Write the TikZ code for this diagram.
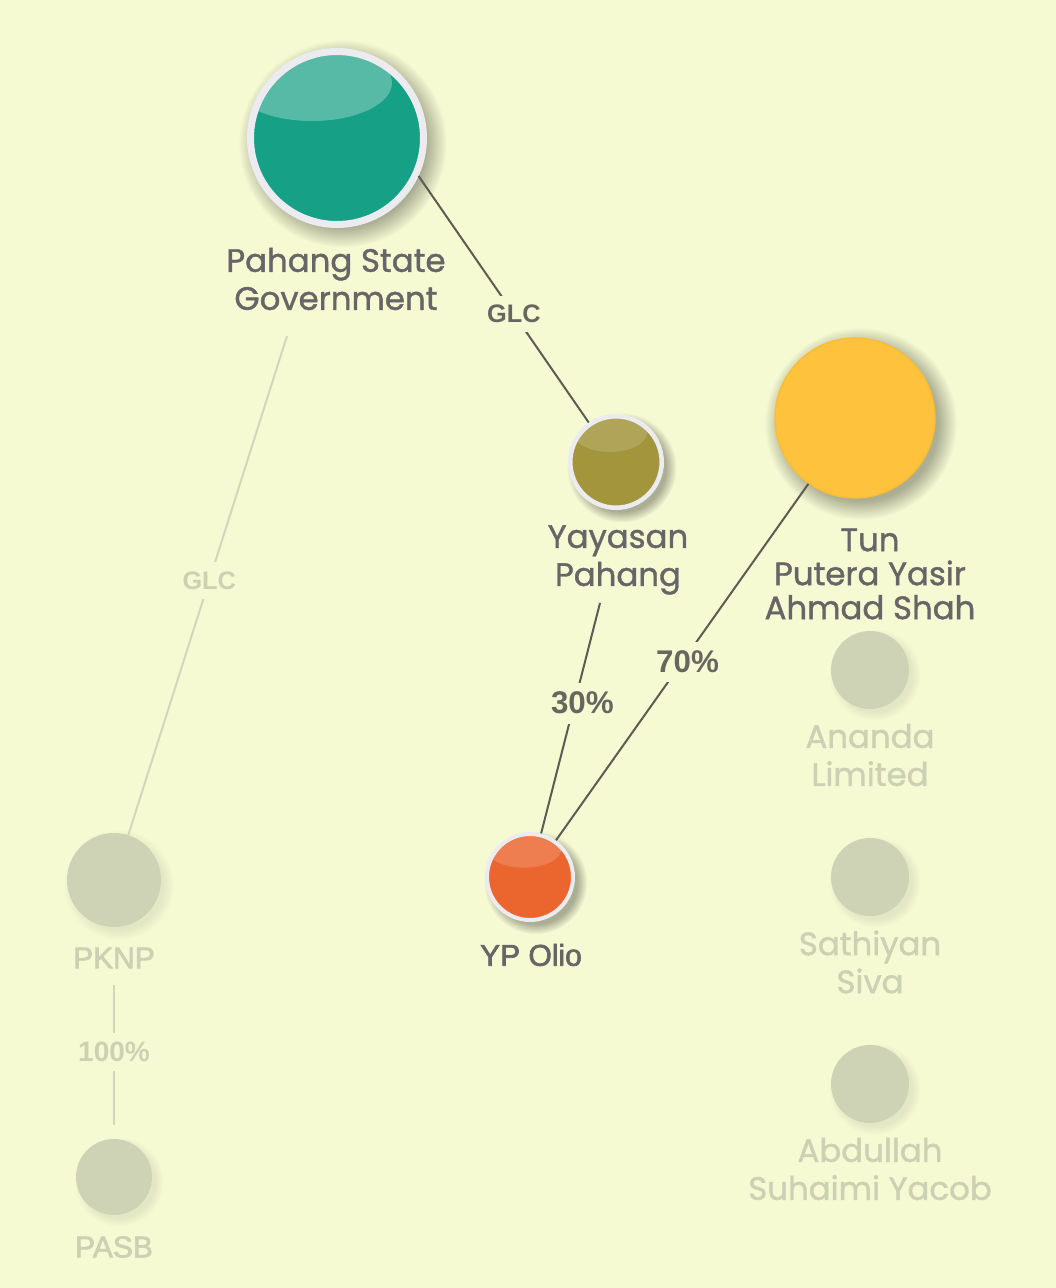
\documentclass[tikz,border=0pt]{standalone}
\usepackage{fontspec}
\setmainfont{Poppins}
\newfontfamily\popfont{Poppins}[FakeBold=1.2]
\newfontfamily\libfont{Liberation Sans}
\newfontfamily\libmed{Liberation Sans}[FakeBold=2.2]
\usetikzlibrary{shadows}
\definecolor{bg}{HTML}{F5FAD3}
\definecolor{tealc}{HTML}{16A085}
\definecolor{olivec}{HTML}{A3953B}
\definecolor{orangec}{HTML}{EB652F}
\definecolor{yellowc}{HTML}{FFC23C}
\definecolor{yellowedge}{HTML}{FBBC35}
\definecolor{ringc}{HTML}{ECECF0}
\definecolor{fadedc}{HTML}{CED3B6}
\definecolor{fadedtxt}{HTML}{CCD1B4}
\definecolor{fadedline}{HTML}{D2D7BA}
\definecolor{txtc}{HTML}{666666}
\definecolor{etxt}{HTML}{66675E}
\definecolor{linec}{HTML}{5C5C52}
\begin{document}
\begin{tikzpicture}[x=0.75pt,y=-0.75pt,
  main/.style={circle,inner sep=0pt,
    circular drop shadow={shadow xshift=3.5pt,shadow yshift=-3.5pt,shadow scale=1.2,
      fill=black,opacity=0.3,path fading={circle with fuzzy edge 20 percent}}},
  fnode/.style={circle,inner sep=0pt,fill=fadedc,
    circular drop shadow={shadow xshift=3pt,shadow yshift=-3pt,shadow scale=1.18,
      fill=black,opacity=0.07,path fading={circle with fuzzy edge 20 percent}}},
  hl/.style n args={6}{path picture={
    \path ([shift={(#1,#2)}]path picture bounding box.center) coordinate (hc);
    \fill[white,opacity=#5,rotate around={#6:(hc)}] (hc) ellipse [x radius=#3,y radius=#4];}},
  lbl/.style={font=\popfont\fontsize{24.3}{28.5}\selectfont,text=txtc,align=center,inner sep=0pt},
  flbl/.style={lbl,text=fadedtxt},
  slbl/.style={font=\libmed\fontsize{22.5}{26}\selectfont,text=txtc,inner sep=0pt},
  fslbl/.style={slbl,text=fadedtxt},
  elabel/.style={font=\libfont\bfseries\fontsize{23.5}{26}\selectfont,text=etxt,fill=bg,inner sep=7pt},
  glclabel/.style={elabel,font=\libfont\bfseries\fontsize{19}{22}\selectfont},
  felabel/.style={elabel,text=fadedtxt},
  fglclabel/.style={glclabel,text=fadedtxt},
  link/.style={draw=linec,line width=1.5pt},
  flink/.style={draw=fadedline,line width=1.5pt}
]
\fill[bg] (0,0) rectangle (1056,1288);

% main nodes
\node[main,fill=tealc,draw=ringc,line width=5.25pt,minimum size=129.75pt,
  hl={-25}{-55}{60pt}{28.5pt}{0.28}{28}] (pahang) at (337,138) {};
\node[lbl] (pahanglbl) at (336,279) {Pahang State\\Government};

\node[main,fill=olivec,draw=ringc,line width=3.4pt,minimum size=68.6pt,
  hl={-6}{-30}{28pt}{15pt}{0.15}{22}] (yayasan) at (616,462) {};
\node[lbl] (yayasanlbl) at (618,560) {Yayasan\\Pahang};

\node[main,fill=yellowc,draw=yellowedge,line width=1pt,minimum size=120pt] (tun) at (855,418) {};
\node[lbl,font=\popfont\fontsize{24.3}{25.5}\selectfont] (tunlbl) at (870,574) {Tun\\Putera Yasir\\Ahmad Shah};

\node[main,fill=orangec,draw=ringc,line width=3pt,minimum size=64.5pt,
  hl={-6}{-28}{28pt}{14pt}{0.16}{22}] (olio) at (530,877) {};
\node[slbl] (oliolbl) at (531,955) {YP Olio};

% faded nodes
\node[fnode,minimum size=70.5pt] (pknp) at (114,880) {};
\node[fslbl] (pknplbl) at (114,958) {PKNP};
\node[fnode,minimum size=57pt] (pasb) at (114,1177) {};
\node[fslbl] (pasblbl) at (114,1247) {PASB};

\node[fnode,minimum size=58.5pt] (ananda) at (870,670) {};
\node[flbl] (anandalbl) at (870,755) {Ananda\\Limited};
\node[fnode,minimum size=58.5pt] (sathiyan) at (870,877) {};
\node[flbl] (sathiyanlbl) at (870,962) {Sathiyan\\Siva};
\node[fnode,minimum size=58.5pt] (abdullah) at (870,1084) {};
\node[flbl] (abdullahlbl) at (870,1169) {Abdullah\\Suhaimi Yacob};

% connectors
\draw[link] (pahang.-25) -- node[glclabel,pos=0.56] (glc1) {GLC} (yayasan);
\coordinate (ystart) at (600,603);
\draw[link] (ystart) -- node[elabel,pos=0.435,xshift=6pt] (p30) {30\%} (olio);
\draw[link] (tun) -- node[elabel,pos=0.5,xshift=4pt] (p70) {70\%} (olio);

\coordinate (gstart) at (287,336);
\draw[flink] (gstart) -- node[fglclabel,pos=0.49] (glc2) {GLC} (pknp);
\coordinate (kstart) at (114,985);
\draw[flink,shorten >=10.5pt] (kstart) -- node[felabel,pos=0.435,font=\libfont\bfseries\fontsize{21}{24}\selectfont] (p100) {100\%} (pasb);
\end{tikzpicture}
\end{document}
